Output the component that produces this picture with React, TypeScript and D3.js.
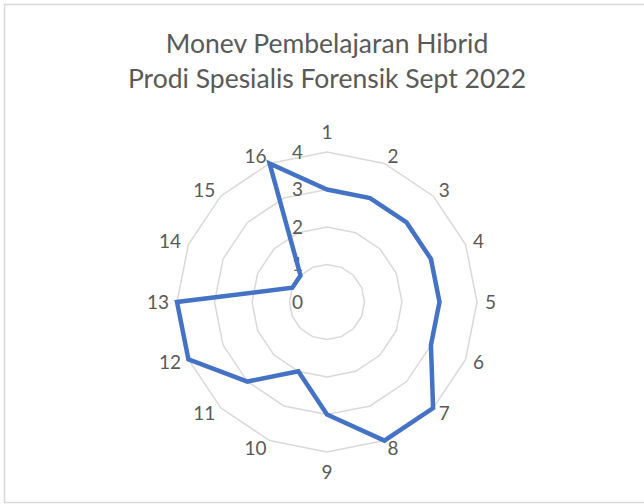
import React, { useEffect, useRef } from "react";
import * as d3 from "d3";

const categories = ["1", "2", "3", "4", "5", "6", "7", "8", "9", "10", "11", "12", "13", "14", "15", "16"];
const values = [3, 3, 3, 3, 3, 3, 4, 4, 3, 2, 3, 4, 4, 1, 1, 4];
const ticks = [0, 1, 2, 3, 4];
const titleLines = ["Monev Pembelajaran Hibrid", "Prodi Spesialis Forensik Sept 2022"];

const width = 644;
const height = 504;
const cx = 327;
const cy = 302;
const radius = 150;
const font = "Lato, 'Open Sans', sans-serif";
const textColor = "#595959";

export default function App() {
  const svgRef = useRef<SVGSVGElement>(null);

  useEffect(() => {
    const svg = d3.select(svgRef.current);
    svg.selectAll("*").remove();

    svg
      .append("rect")
      .attr("x", 4.5)
      .attr("y", 4.5)
      .attr("width", width + 10)
      .attr("height", height - 6)
      .attr("fill", "#fff")
      .attr("stroke", "#d9d9d9")
      .attr("stroke-width", 1.5);

    svg
      .append("g")
      .selectAll("text")
      .data(titleLines)
      .join("text")
      .attr("x", cx)
      .attr("y", (d, i) => 53 + i * 35)
      .attr("text-anchor", "middle")
      .attr("font-family", font)
      .attr("font-size", 26.5)
      .attr("fill", textColor)
      .text((d) => d);

    const r = d3.scaleLinear().domain([0, 4]).range([0, radius]);
    const angle = d3
      .scalePoint<string>()
      .domain(categories)
      .range([0, 2 * Math.PI - (2 * Math.PI) / categories.length]);

    const plot = svg.append("g").attr("transform", `translate(${cx}, ${cy})`);

    const ringLine = d3
      .lineRadial<string>()
      .angle((d) => angle(d)!)
      .curve(d3.curveLinearClosed);

    plot
      .append("g")
      .selectAll("path")
      .data(ticks.filter((t) => t > 0))
      .join("path")
      .attr("d", (t) => ringLine.radius(() => r(t))(categories))
      .attr("fill", "none")
      .attr("stroke", "#d9d9d9")
      .attr("stroke-width", 1.5);

    plot
      .append("g")
      .selectAll("text")
      .data(ticks)
      .join("text")
      .attr("x", -24)
      .attr("y", (t) => -r(t))
      .attr("dy", "0.35em")
      .attr("text-anchor", "end")
      .attr("font-family", font)
      .attr("font-size", 19)
      .attr("fill", textColor)
      .text((t) => t);

    const dataLine = d3
      .lineRadial<number>()
      .angle((d, i) => angle(categories[i])!)
      .radius((d) => r(d))
      .curve(d3.curveLinearClosed);

    plot
      .append("path")
      .attr("d", dataLine(values))
      .attr("fill", "none")
      .attr("stroke", "#4472c4")
      .attr("stroke-width", 4.5)
      .attr("stroke-linejoin", "miter");

    const labelR = radius + 8;
    plot
      .append("g")
      .selectAll("text")
      .data(categories)
      .join("text")
      .attr("x", (d) => Math.sin(angle(d)!) * labelR)
      .attr("y", (d) => {
        const a = angle(d)!;
        const s = Math.abs(Math.sin(a)) < 0.1 ? Math.cos(a) * 12 : 0;
        return -Math.cos(a) * labelR - s;
      })
      .attr("dy", "0.35em")
      .attr("text-anchor", (d) => {
        const s = Math.sin(angle(d)!);
        return Math.abs(s) < 0.1 ? "middle" : s > 0 ? "start" : "end";
      })
      .attr("font-family", font)
      .attr("font-size", 19)
      .attr("fill", textColor)
      .text((d) => d);
  }, []);

  return (
    <svg
      ref={svgRef}
      width={width}
      height={height}
      style={{ position: "absolute", left: 0, top: 0, background: "#fff" }}
    />
  );
}
